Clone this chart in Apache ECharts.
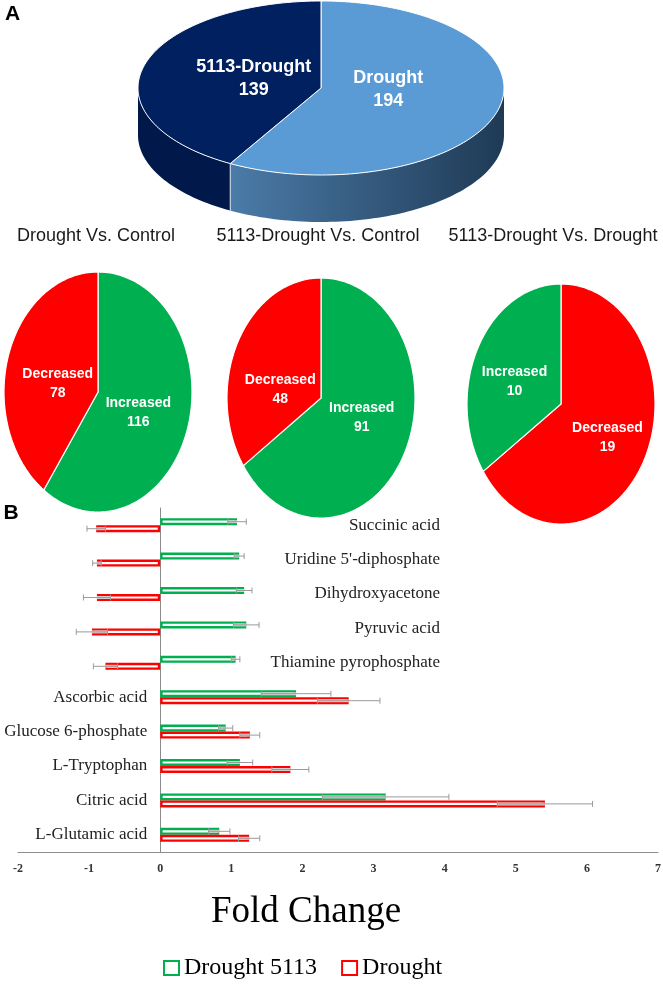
<!DOCTYPE html>
<html><head><meta charset="utf-8">
<script src="https://cdn.jsdelivr.net/npm/echarts@6/dist/echarts.min.js"></script>
<style>html,body{margin:0;padding:0;background:#fff}#c{width:663px;height:987px}</style>
</head><body><div id="c"></div>
<script>
// ===== Data =====
const overviewNames = ['Drought', '5113-Drought'];
const overviewValues = [194, 139];

const pieTitles = ['Drought Vs. Control', '5113-Drought Vs. Control', '5113-Drought Vs. Drought'];
const pie1Names = ['Increased', 'Decreased'];
const pie1Values = [116, 78];
const pie2Names = ['Increased', 'Decreased'];
const pie2Values = [91, 48];
const pie3Names = ['Decreased', 'Increased'];
const pie3Values = [19, 10];

const metabolites = ['Succinic acid', "Uridine 5'-diphosphate", 'Dihydroxyacetone', 'Pyruvic acid',
  'Thiamine pyrophosphate', 'Ascorbic acid', 'Glucose 6-phosphate', 'L-Tryptophan', 'Citric acid', 'L-Glutamic acid'];
const drought5113FC  = [1.08, 1.11, 1.18, 1.21, 1.06, 1.91, 0.92, 1.12, 3.17, 0.83];
const drought5113Err = [0.13, 0.07, 0.11, 0.18, 0.06, 0.49, 0.10, 0.18, 0.89, 0.15];
const droughtFC      = [-0.90, -0.89, -0.89, -0.96, -0.77, 2.65, 1.26, 1.83, 5.41, 1.25];
const droughtErr     = [0.13, 0.06, 0.19, 0.22, 0.17, 0.44, 0.14, 0.26, 0.67, 0.15];
const seriesNames = ['Drought 5113', 'Drought'];
const xMin = -2, xMax = 7, xInterval = 1;

// ===== Styles =====
const GREEN = '#00b050', RED = '#ff0000';
const SANS = '"Liberation Sans", Arial, sans-serif';
const SERIF = '"Liberation Serif", "Times New Roman", serif';

function ePt(cx, cy, rx, ry, deg) {
  const r = deg * Math.PI / 180;
  return [cx + rx * Math.sin(r), cy - ry * Math.cos(r)];
}
function arc(cx, cy, rx, ry, a0, a1) {
  const pts = [];
  const n = Math.max(2, Math.ceil(Math.abs(a1 - a0) / 1.5));
  for (let i = 0; i <= n; i++) pts.push(ePt(cx, cy, rx, ry, a0 + (a1 - a0) * i / n));
  return pts;
}

function flatPie(names, values, colors, g) {
  const total = values.reduce((a, b) => a + b, 0);
  return {
    type: 'custom', coordinateSystem: 'none', silent: true, animation: false,
    data: values.map((v, i) => ({ name: names[i], value: v })),
    renderItem: function (params, api) {
      const i = params.dataIndex;
      let start = 0;
      for (let k = 0; k < i; k++) start += values[k] / total * 360;
      const end = start + api.value(0) / total * 360;
      const pts = [[g.cx, g.cy]].concat(arc(g.cx, g.cy, g.rx, g.ry, start, end));
      const mid = (start + end) / 2 * Math.PI / 180;
      return { type: 'group', children: [
        { type: 'polygon', z2: 1, shape: { points: pts }, style: { fill: colors[i], stroke: '#fff', lineWidth: 1.2 } },
        { type: 'text', z2: 20, x: g.cx + Math.sin(mid) * g.rx * g.fx, y: g.cy + g.ldy - Math.cos(mid) * g.ry * g.fy,
          style: { text: names[i] + '\n' + api.value(0), fill: '#fff', fontFamily: SANS, fontWeight: 'bold',
                   fontSize: 14, lineHeight: 19, align: 'center', verticalAlign: 'middle' } }
      ]};
    }
  };
}

function pie3D(names, values, g) {
  const total = values.reduce((a, b) => a + b, 0);
  return {
    type: 'custom', coordinateSystem: 'none', silent: true, animation: false,
    data: values.map((v, i) => ({ name: names[i], value: v })),
    renderItem: function (params, api) {
      const i = params.dataIndex;
      let start = 0;
      for (let k = 0; k < i; k++) start += values[k] / total * 360;
      const end = start + api.value(0) / total * 360;
      const children = [];
      const s0 = Math.max(start, 90), s1 = Math.min(end, 270);
      if (s1 > s0) {
        const topArc = arc(g.cx, g.cy, g.rx, g.ry, s0, s1);
        const botArc = arc(g.cx, g.cy + g.depth, g.rx, g.ry, s0, s1).reverse();
        children.push({ type: 'polygon', z2: 1, shape: { points: topArc.concat(botArc) },
          style: { fill: g.side[i] } });
      }
      const vtx = [g.cx, g.cy - g.vOff];
      children.push({ type: 'polygon', z2: 5, shape: { points: [vtx].concat(arc(g.cx, g.cy, g.rx, g.ry, start, end)) },
        style: { fill: g.top[i], stroke: '#fff', lineWidth: 1 } });
      if (end > 90 && end < 270) {
        const p = ePt(g.cx, g.cy, g.rx, g.ry, end);
        children.push({ type: 'line', z2: 6, shape: { x1: p[0], y1: p[1], x2: p[0], y2: p[1] + g.depth },
          style: { stroke: '#dfe8f2', lineWidth: 1 } });
      }
      const mid = (start + end) / 2 * Math.PI / 180;
      children.push({ type: 'text', z2: 20, x: g.cx + Math.sin(mid) * g.rx * g.fx, y: g.ly - Math.cos(mid) * g.ry * g.fy,
        style: { text: names[i] + '\n' + api.value(0), fill: '#fff', fontFamily: SANS, fontWeight: 'bold',
                 fontSize: 18, lineHeight: 23, align: 'center', verticalAlign: 'middle' } });
      return { type: 'group', children: children };
    }
  };
}

function errorSeries(vals, errs, dy) {
  return {
    type: 'custom', coordinateSystem: 'cartesian2d', xAxisIndex: 0, yAxisIndex: 0, silent: true, animation: false, z: 5,
    data: vals.map((v, i) => [v, i, errs[i]]),
    encode: { x: 0, y: 1 },
    renderItem: function (params, api) {
      const v = api.value(0), c = api.value(1), e = api.value(2);
      const a = api.coord([v - e, c]), b = api.coord([v + e, c]);
      const lo = Math.max(v - e, Math.min(0, v)), hi = Math.min(v + e, Math.max(0, v));
      const ia = api.coord([lo, c]), ib = api.coord([hi, c]);
      const y = a[1] + dy, cap = 3;
      const st = { stroke: '#9a9a9a', lineWidth: 1 };
      return { type: 'group', children: [
        { type: 'line', shape: { x1: ia[0], y1: y, x2: ib[0], y2: y }, style: { stroke: '#cfcfcf', lineWidth: 3 } },
        { type: 'line', shape: { x1: a[0], y1: y, x2: b[0], y2: y }, style: st },
        { type: 'line', shape: { x1: a[0], y1: y - cap, x2: a[0], y2: y + cap }, style: st },
        { type: 'line', shape: { x1: b[0], y1: y - cap, x2: b[0], y2: y + cap }, style: st }
      ]};
    }
  };
}

const BAR_W = 7;
const chart = echarts.init(document.getElementById('c'), null, { renderer: 'canvas' });
const titleStyle = { fill: '#1a1a1a', fontFamily: SANS, fontSize: 18, align: 'center', verticalAlign: 'middle' };

chart.setOption({
  animation: false,
  backgroundColor: '#fff',
  graphic: [
    { type: 'text', x: 12.5, y: 14.5, style: { text: 'A', fill: '#000', fontFamily: SANS, fontWeight: 900, fontSize: 21, align: 'center', verticalAlign: 'middle' } },
    { type: 'text', x: 11, y: 513.5, style: { text: 'B', fill: '#000', fontFamily: SANS, fontWeight: 900, fontSize: 21, align: 'center', verticalAlign: 'middle' } },
    { type: 'text', x: 96, y: 236, style: Object.assign({ text: pieTitles[0] }, titleStyle) },
    { type: 'text', x: 318, y: 236, style: Object.assign({ text: pieTitles[1] }, titleStyle) },
    { type: 'text', x: 553, y: 236, style: Object.assign({ text: pieTitles[2] }, titleStyle) },
    { type: 'text', x: 306, y: 912, style: { text: 'Fold Change', fill: '#000', fontFamily: SERIF, fontSize: 37, align: 'center', verticalAlign: 'middle' } }
  ],
  legend: {
    data: seriesNames, left: 163, top: 956, padding: 0, itemGap: 24, itemWidth: 15, itemHeight: 14, icon: 'rect',
    textStyle: { fontFamily: SERIF, fontSize: 24, color: '#000' }
  },
  grid: { left: 18, right: 5, top: 508, bottom: 135, containLabel: false, outerBoundsMode: 'none' },
  xAxis: {
    type: 'value', min: xMin, max: xMax, interval: xInterval,
    axisLine: { show: true, onZero: false, lineStyle: { color: '#8c8c8c', width: 1 } },
    axisTick: { show: false }, splitLine: { show: false },
    axisLabel: { fontFamily: SERIF, fontSize: 12, fontWeight: 'bold', color: '#333', margin: 11 }
  },
  yAxis: [
    { type: 'category', data: metabolites, inverse: true, position: 'left', offset: -142.2,
      axisLine: { show: true, onZero: false, lineStyle: { color: '#8c8c8c', width: 1 } },
      axisTick: { show: false },
      axisLabel: { formatter: (v, i) => (i < 5 ? '' : v), fontFamily: SERIF, fontSize: 17, color: '#222', margin: 13 } },
    { type: 'category', data: metabolites, inverse: true, position: 'left', offset: -430,
      axisLine: { show: false, onZero: false }, axisTick: { show: false },
      axisLabel: { formatter: (v, i) => (i < 5 ? v : ''), fontFamily: SERIF, fontSize: 17, color: '#222', margin: 8 } }
  ],
  series: [
    pie3D(overviewNames, overviewValues, {
      cx: 321, cy: 88, rx: 183, ry: 87, depth: 47, vOff: 0, ly: 84, fx: 0.38, fy: 0.25,
      top: ['#5b9bd5', '#002060'],
      side: [new echarts.graphic.LinearGradient(0, 0, 1, 0, [{ offset: 0, color: '#4b7ba8' }, { offset: 1, color: '#1f3a55' }]), '#00184a']
    }),
    flatPie(pie1Names, pie1Values, [GREEN, RED], { cx: 98, cy: 392, rx: 94, ry: 120, ldy: 6, fx: 0.45, fy: 0.4 }),
    flatPie(pie2Names, pie2Values, [GREEN, RED], { cx: 321, cy: 398, rx: 94, ry: 120, ldy: 6, fx: 0.49, fy: 0.25 }),
    flatPie(pie3Names, pie3Values, [RED, GREEN], { cx: 561, cy: 404, rx: 94, ry: 120, ldy: 6, fx: 0.56, fy: 0.5 }),
    { name: seriesNames[0], type: 'bar', data: drought5113FC, barWidth: BAR_W, barGap: '0%', xAxisIndex: 0, yAxisIndex: 0,
      itemStyle: { color: '#fff', borderColor: GREEN, borderWidth: 2.4 } },
    { name: seriesNames[1], type: 'bar', data: droughtFC, barWidth: BAR_W, barGap: '0%', xAxisIndex: 0, yAxisIndex: 0,
      itemStyle: { color: '#fff', borderColor: RED, borderWidth: 2.4 } },
    errorSeries(drought5113FC, drought5113Err, -BAR_W / 2),
    errorSeries(droughtFC, droughtErr, BAR_W / 2)
  ]
});
</script></body></html>
